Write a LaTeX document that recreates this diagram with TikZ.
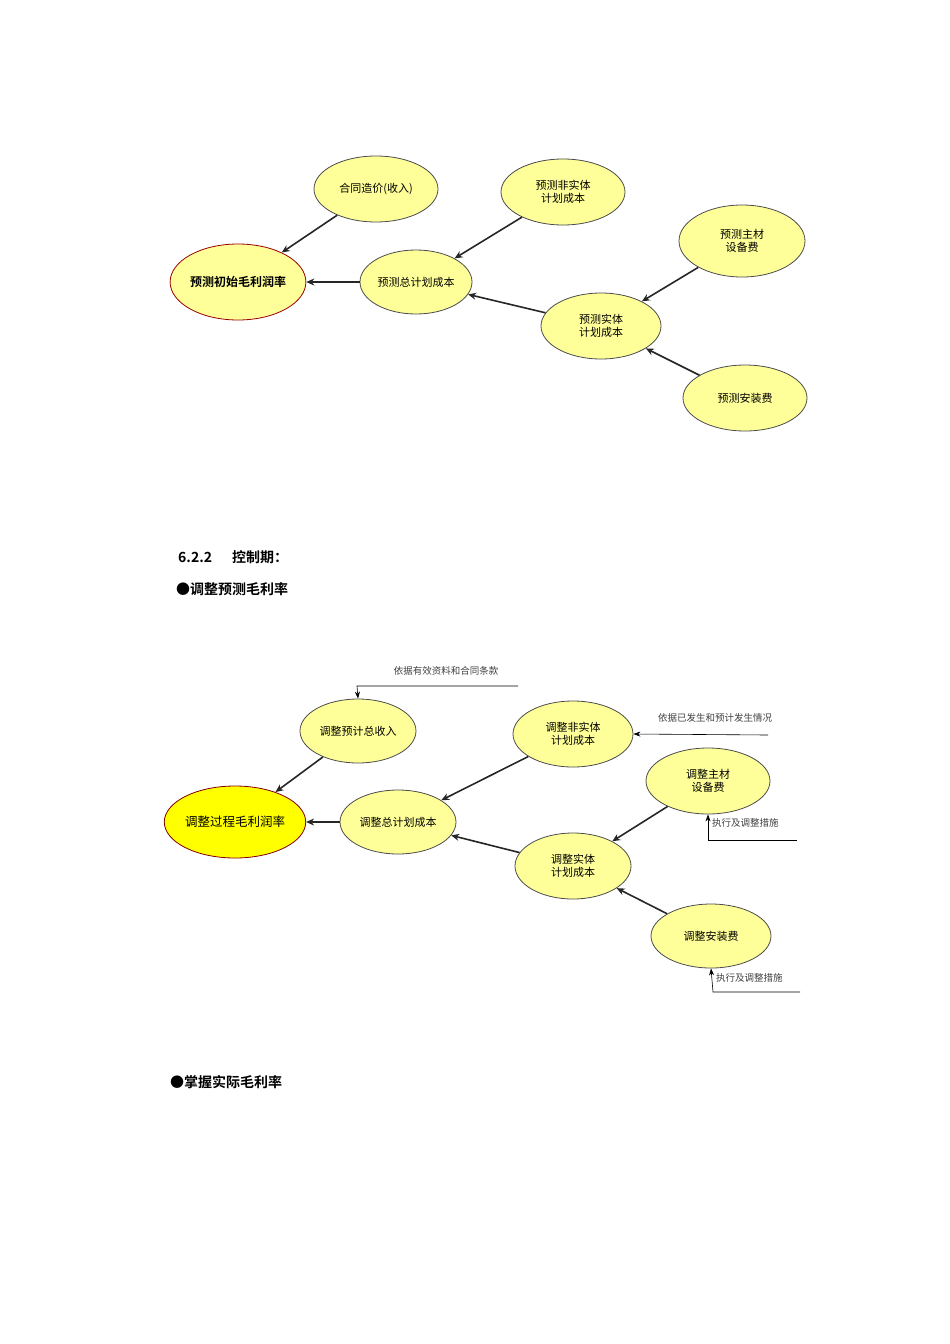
\documentclass[tikz,border=0pt]{standalone}
\usepackage{fontspec}
\newfontfamily\cjk{Noto Sans CJK SC}
\newfontfamily\cjkb{Noto Sans CJK SC Bold}
\usetikzlibrary{shapes.geometric,arrows.meta}
\definecolor{ely}{RGB}{255,255,153}
\definecolor{ey}{RGB}{255,255,0}
\tikzset{
 el/.style={ellipse,draw=black!70,line width=0.8pt,fill=ely,inner sep=0pt,font=\cjk\fontsize{11}{13}\selectfont,align=center},
 arr/.style={-{Stealth[length=8pt,width=7pt]},line width=1.6pt,black!85},
 thin/.style={-{Stealth[length=7pt,width=5pt]},line width=0.6pt},
 note/.style={font=\cjk\fontsize{9.5}{11}\selectfont,text=black!75,inner sep=0pt},
 head/.style={font=\cjkb\fontsize{14}{16}\selectfont,anchor=west,inner sep=0pt}
}
\begin{document}
\begin{tikzpicture}[x=1pt,y=-1pt]
\useasboundingbox (0,0) rectangle (950,1344);
% top
\node[el,minimum width=124pt,minimum height=66pt] (a) at (376,189) {合同造价(收入)};
\node[el,minimum width=130pt,minimum height=76pt,draw=red!60!black,font=\cjkb\fontsize{12}{14}\selectfont] (b) at (238,282) {预测初始毛利润率};
\node[el,minimum width=112pt,minimum height=64pt] (c) at (416,282) {预测总计划成本};
\node[el,minimum width=124pt,minimum height=66pt] (d) at (563,192) {预测非实体\\计划成本};
\node[el,minimum width=126pt,minimum height=72pt] (e) at (742,241) {预测主材\\设备费};
\node[el,minimum width=120pt,minimum height=66pt] (f) at (601,326) {预测实体\\计划成本};
\node[el,minimum width=124pt,minimum height=66pt] (g) at (745,398) {预测安装费};
\draw[arr] (a) -- (b);
\draw[arr] (c) -- (b);
\draw[arr] (d) -- (c);
\draw[arr] (f) -- (c);
\draw[arr] (e) -- (f);
\draw[arr] (g) -- (f);
% headings
\node[head] (h1) at (178,557) {6.2.2\hspace{20pt}控制期：};
\node[head] (h2) at (176,589) {●调整预测毛利率};
\node[head] (h3) at (170,1082) {●掌握实际毛利率};
% bottom
\node[el,minimum width=116pt,minimum height=64pt] (p) at (358,731) {调整预计总收入};
\node[el,minimum width=136pt,minimum height=72pt,fill=ey,draw=red!50!black,font=\cjk\fontsize{12.5}{14}\selectfont] (q) at (235,822) {调整过程毛利润率};
\node[el,minimum width=116pt,minimum height=64pt] (r) at (398,822) {调整总计划成本};
\node[el,minimum width=120pt,minimum height=66pt] (s) at (573,734) {调整非实体\\计划成本};
\node[el,minimum width=124pt,minimum height=66pt] (t) at (708,781) {调整主材\\设备费};
\node[el,minimum width=116pt,minimum height=66pt] (u) at (573,866) {调整实体\\计划成本};
\node[el,minimum width=120pt,minimum height=64pt] (v) at (711,936) {调整安装费};
\draw[arr] (p) -- (q);
\draw[arr] (r) -- (q);
\draw[arr] (s) -- (r);
\draw[arr] (u) -- (r);
\draw[arr] (t) -- (u);
\draw[arr] (v) -- (u);
% notes
\node[note] (n1) at (446,671) {依据有效资料和合同条款};
\coordinate (n1a) at (518,686);
\draw[thin] (n1a) -- (357,686) -- (p.north);
\node[note] (n2) at (715,718) {依据已发生和预计发生情况};
\coordinate (n2a) at (768,735);
\draw[thin] (n2a) -- (s.east);
\node[note,anchor=west] (n3) at (712,823) {执行及调整措施};
\coordinate (n3a) at (797,840);
\draw[thin] (n3a) -- (708,840) -- (t.south);
\node[note,anchor=west] (n4) at (716,978) {执行及调整措施};
\coordinate (n4a) at (800,992);
\draw[thin] (n4a) -- (713,992) -- (v.south);
\end{tikzpicture}
\end{document}
